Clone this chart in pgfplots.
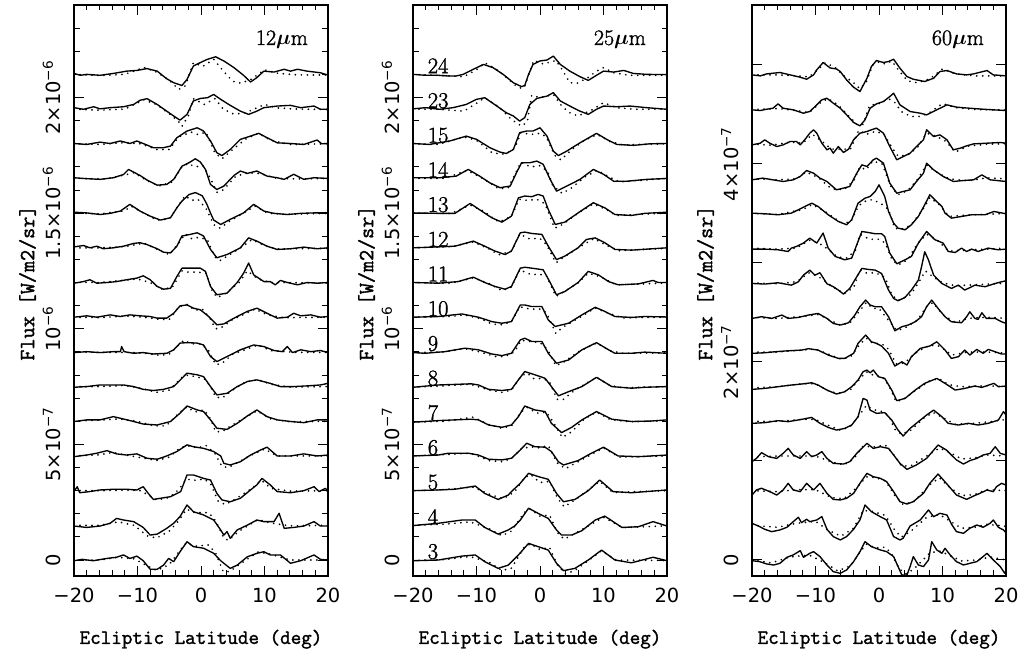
\documentclass[border=0pt]{standalone}
\usepackage{fontspec}
\usepackage{pgfplots}
\pgfplotsset{compat=1.18}
\newfontfamily\tickfam{DejaVu Sans}
\newfontfamily\labfam{Latin Modern Mono}[FakeBold=1.6]
\newfontfamily\numfam{Latin Modern Roman}[FakeBold=1.4]
\newcommand\tickfont{\tickfam\fontsize{19.5}{21}\selectfont}
\newcommand\xlfont{\labfam\fontsize{20.5}{22}\selectfont}
\newcommand\ylfont{\labfam\fontsize{21.5}{24}\selectfont}
\newcommand\curvefont{\numfam\fontsize{22.5}{24}\selectfont}
\newcommand\titlefont{\numfam\fontsize{22}{24}\selectfont\boldmath}

\pgfplotsset{
  panel/.style={
    scale only axis, width=254pt, height=571pt,
    xmin=-20, xmax=20,
    xtick={-20,-10,0,10,20}, xticklabels={−20,−10,0,10,20},
    minor xtick={-18,-16,-14,-12,-8,-6,-4,-2,2,4,6,8,12,14,16,18},
    tick align=inside,
    major tick length=10pt, minor tick length=5.5pt,
    every tick/.style={black, line width=1pt},
    axis line style={line width=1.2pt},
    ticklabel style={font=\tickfont},
    xticklabel style={inner sep=0pt, anchor=north}, xticklabel shift=12pt,
    yticklabel style={rotate=90, anchor=south, inner sep=0pt}, yticklabel shift=13pt,
    xlabel={Ecliptic Latitude (deg)}, ylabel={Flux [W/m2/sr]},
    xlabel style={at={(axis description cs:0.5,-0.119)}, anchor=base, font=\xlfont},
    ylabel style={at={(axis description cs:-0.157,0.513)}, anchor=base, font=\ylfont},
  },
  near/.style={ymin=-0.69, ymax=24.0,
    ytick={0,5,10,15,20},
    yticklabels={0,5×10\textsuperscript{−7},10\textsuperscript{−6},1.5×10\textsuperscript{−6},2×10\textsuperscript{−6}},
    minor ytick={1,2,3,4,6,7,8,9,11,12,13,14,16,17,18,19,21,22,23}},
  far/.style={ymin=-1.62, ymax=56.06,
    ytick={0,10,20,30,40,50},
    yticklabels={0,,2×10\textsuperscript{−7},,4×10\textsuperscript{−7},}},
  sol/.style={black, line width=1.35pt, line join=round, no marks},
  dot/.style={black, line width=1.9pt, line cap=round, dash pattern=on 0pt off 6pt, no marks},
}

\begin{document}
\begin{tikzpicture}
\path[use as bounding box] (0,0) rectangle (1021pt,652pt);

% ---------------- 12 micron ----------------
\begin{axis}[panel, near, at={(74pt,76pt)}, anchor=south west]
\addplot[sol] coordinates {(-20,21.04) (-19,20.96) (-18,21.0) (-15.9,20.96) (-13.8,21.04) (-11.7,21.14) (-10.1,21.17) (-8.5,21.25) (-6.9,21.14) (-5.4,20.81) (-4.3,20.64) (-3,20.52) (-2.2,20.78) (-1.2,21.36) (-0.1,21.51) (1,21.65) (2.3,21.76) (3.6,21.58) (5.2,21.29) (6.7,20.96) (7.8,20.67) (8.8,20.86) (9.9,21.14) (11.5,21.10) (13.1,21.22) (14.1,21.14) (15.2,21.22) (16.7,21.14) (18.8,21.07) (20,20.97)};
\addplot[dot] coordinates {(-20,21.0) (-16,20.95) (-12,21.0) (-9,21.3) (-7,21.1) (-5,20.75) (-3.5,20.35) (-2.5,20.5) (-1.2,21.5) (0.3,21.35) (2,21.65) (3.5,21.15) (5,20.7) (6.3,20.62) (8,20.8) (10,21.2) (12,21.05) (15,20.98) (20,20.97)};
\addplot[sol] coordinates {(-20,19.56) (-18.5,19.49) (-16.9,19.6) (-15.9,19.51) (-14.3,19.56) (-12.2,19.6) (-10.6,19.7) (-9.6,19.88) (-8.5,19.95) (-6.9,19.7) (-5.4,19.41) (-4.3,19.2) (-3.3,19.02) (-2.2,19.27) (-1.2,19.85) (-0.1,19.96) (1,19.99) (2,20.13) (3.1,19.92) (4.6,19.66) (6.2,19.41) (7.5,19.27) (8.8,19.41) (9.9,19.56) (12,19.63) (14.1,19.66) (15.7,19.56) (17.8,19.63) (18.8,19.49) (20,19.49)};
\addplot[dot] coordinates {(-20,19.5) (-16,19.45) (-12,19.5) (-9,19.9) (-7,19.7) (-5,19.3) (-3.5,18.95) (-3,18.75) (-2,19.2) (-1.2,19.95) (0.5,19.7) (2.2,19.95) (3.5,19.5) (5,19.3) (6.5,19.3) (8,19.45) (10,19.7) (12,19.55) (15,19.5) (20,19.48)};
\addplot[sol] coordinates {(-20,18.01) (-18,17.97) (-15.9,18.07) (-14.3,18.01) (-12.7,18.12) (-11.2,18.01) (-10.1,18.12) (-9.1,18.01) (-7.5,17.83) (-5.9,17.83) (-4.8,17.9) (-3.8,18.26) (-2.2,18.55) (-0.6,18.69) (0.4,18.55) (1.5,18.12) (2.5,17.61) (3.3,17.49) (4.6,17.75) (6.2,18.19) (7.8,18.33) (9.1,18.45) (10.4,18.26) (12,18.04) (14.1,18.01) (16.2,17.97) (18.3,18.16) (19,18.0) (20,18.01)};
\addplot[dot] coordinates {(-20,18.0) (-16,17.97) (-12,18.05) (-9.5,18.0) (-7,17.75) (-5,17.75) (-3.5,18.3) (-1.5,18.5) (-0.5,18.4) (0.8,18.5) (2.2,17.6) (3.3,17.35) (5,17.75) (7,18.2) (9,18.45) (11,18.15) (14,17.97) (20,18.0)};
\addplot[sol] coordinates {(-20,16.53) (-18,16.49) (-15.9,16.46) (-13.8,16.53) (-12.2,16.67) (-11.4,16.89) (-10.6,16.77) (-9.6,16.63) (-8.5,16.43) (-6.9,16.21) (-5.4,16.24) (-4.3,16.46) (-3,17.03) (-1.7,17.21) (-0.9,17.35) (-0.1,17.21) (0.7,16.89) (1.5,16.24) (2.5,16.02) (3.6,16.17) (5.2,16.63) (6.2,16.82) (7.3,16.72) (8.8,16.82) (10.4,16.6) (12,16.53) (13.1,16.46) (14.6,16.68) (16.2,16.46) (17.8,16.53) (20,16.5)};
\addplot[dot] coordinates {(-20,16.5) (-15,16.48) (-12,16.65) (-10.5,16.75) (-8.5,16.4) (-6.5,16.18) (-4.5,16.35) (-3,17.0) (-2,17.15) (-1,17.0) (0.3,17.05) (1.5,16.5) (2.5,15.9) (3.5,16.0) (5.5,16.6) (7.5,16.75) (9.5,16.7) (12,16.5) (15,16.48) (20,16.5)};
\addplot[sol] coordinates {(-20,15.04) (-18,15.01) (-15.9,14.94) (-14.3,14.99) (-12.7,15.09) (-11.2,15.38) (-9.6,15.09) (-8,14.87) (-6.4,14.7) (-4.8,14.8) (-3.8,15.23) (-3,15.52) (-1.9,15.8) (-0.9,15.89) (0.2,15.75) (0.9,15.4) (1.5,15.0) (2,14.7) (3.1,14.51) (4.6,14.73) (6.7,15.01) (8.3,15.38) (9.9,15.09) (11.5,14.99) (13.6,14.94) (15.7,14.99) (17.8,15.01) (20,15.01)};
\addplot[dot] coordinates {(-20,15.0) (-16,14.97) (-12,15.1) (-11,15.3) (-9,15.0) (-7,14.7) (-5,14.75) (-3.5,15.35) (-2.5,15.75) (-1.5,15.55) (-0.5,15.6) (0.8,15.2) (2,14.5) (3,14.35) (4.5,14.65) (7,15.05) (8.5,15.3) (10.5,15.0) (13,14.95) (20,14.99)};
\addplot[sol] coordinates {(-20,13.54) (-18.5,13.6) (-17.5,13.5) (-16.4,13.57) (-15.4,13.46) (-13.8,13.5) (-12.2,13.57) (-10.6,13.69) (-9.6,13.72) (-8.5,13.64) (-6.9,13.46) (-5.9,13.31) (-4.8,13.28) (-3.8,13.57) (-3,14.01) (-1.7,14.08) (-0.6,14.15) (0.4,14.01) (1.5,13.43) (2.5,13.07) (4.1,13.21) (6.2,13.5) (7.5,13.93) (8.8,13.79) (10.4,13.57) (12,13.43) (14.1,13.46) (16.2,13.53) (18.3,13.46) (20,13.5)};
\addplot[dot] coordinates {(-20,13.5) (-16,13.5) (-12,13.55) (-9,13.7) (-7,13.45) (-5,13.2) (-3.5,13.7) (-2.5,14.1) (-1.5,13.9) (-0.3,13.95) (1,13.85) (2.2,13.1) (3,12.95) (4.5,13.2) (6.5,13.55) (8,13.85) (10,13.6) (12,13.45) (20,13.48)};
\addplot[sol] coordinates {(-20,11.97) (-18.5,12.04) (-17.5,12.12) (-16.4,11.97) (-14.8,12.0) (-13.3,12.04) (-11.7,12.12) (-10.1,12.19) (-9.1,12.29) (-8,12.12) (-6.9,11.83) (-5.9,11.71) (-4.8,11.75) (-3.8,12.26) (-3,12.62) (-1.7,12.62) (-0.1,12.62) (0.7,12.48) (1.5,11.83) (2.5,11.47) (4.1,11.54) (5.7,12.0) (6.7,12.4) (7.5,12.84) (8.3,12.33) (9.9,12.04) (10.9,12.04) (11.7,11.9) (12.5,12.09) (13.6,12.0) (15.2,11.9) (16.7,12.0) (18.3,11.97) (20,12.0)};
\addplot[dot] coordinates {(-20,12.0) (-16,12.0) (-12,12.1) (-10,12.15) (-8,12.0) (-6,11.7) (-4.5,11.8) (-3,12.5) (-2,12.45) (-0.5,12.45) (0.8,12.4) (1.8,11.6) (2.6,11.35) (4,11.55) (6,12.0) (7.3,12.5) (9,12.15) (11,12.0) (20,11.98)};
\addplot[sol] coordinates {(-20,10.5) (-18,10.56) (-16.4,10.5) (-14.3,10.6) (-12.7,10.53) (-11.2,10.6) (-9.6,10.56) (-8,10.53) (-6.9,10.46) (-5.4,10.46) (-4.3,10.67) (-3.3,10.99) (-2.2,11.03) (-1.2,10.89) (-0.1,10.82) (1.2,10.53) (2.5,10.17) (3.6,10.21) (5.2,10.46) (7.3,10.75) (8.8,10.89) (10.4,10.67) (12,10.46) (13.6,10.5) (14.6,10.67) (15.7,10.56) (17.3,10.6) (18.8,10.5) (20,10.53)};
\addplot[dot] coordinates {(-20,10.5) (-16,10.48) (-12,10.55) (-9,10.5) (-6.5,10.4) (-5,10.4) (-3.5,10.95) (-2.2,11.05) (-1,10.8) (0.2,10.85) (1.3,10.5) (2.3,10.0) (3.2,10.05) (5,10.4) (8.5,10.85) (10.5,10.6) (13,10.48) (20,10.5)};
\addplot[sol] coordinates {(-20,8.97) (-18,9.01) (-15.9,8.97) (-13.8,9.01) (-12.7,9.01) (-12.5,9.23) (-12.1,9.01) (-10.6,8.94) (-9.1,8.97) (-7.5,8.91) (-5.4,8.94) (-4.3,9.09) (-3.3,9.38) (-2.2,9.4) (-0.6,9.38) (0.4,9.3) (1.5,8.8) (2.5,8.58) (4.1,8.8) (6.2,9.09) (8.3,9.3) (9.9,9.23) (11.5,9.06) (12.8,9.01) (13.6,9.23) (14.4,8.97) (15.7,9.09) (17.3,9.01) (18.8,9.06) (20,8.97)};
\addplot[dot] coordinates {(-20,9.0) (-16,8.98) (-12,8.98) (-9,8.95) (-6.5,8.85) (-5,8.9) (-3.5,9.3) (-2.7,9.5) (-1.5,9.35) (0,9.35) (1.2,9.05) (2.3,8.45) (3.3,8.5) (5,8.9) (7,9.1) (9,9.3) (11,9.05) (15,8.98) (20,8.98)};
\addplot[sol] coordinates {(-20,7.47) (-18,7.5) (-15.9,7.57) (-13.8,7.57) (-12.2,7.57) (-10.6,7.5) (-9.1,7.38) (-7.5,7.33) (-5.9,7.38) (-4.3,7.5) (-3,7.86) (-2.2,8.08) (-0.6,8.01) (0.4,7.93) (1.5,7.5) (2.5,7.14) (4.1,7.21) (5.7,7.5) (7.3,7.72) (8.8,7.79) (10.9,7.64) (12.5,7.5) (14.6,7.5) (16.7,7.53) (18.8,7.57) (20,7.64)};
\addplot[dot] coordinates {(-20,7.5) (-16,7.5) (-12,7.55) (-9,7.4) (-7,7.25) (-5,7.35) (-3,7.9) (-2,8.0) (-0.5,7.9) (0.5,7.85) (1.5,7.5) (2.3,7.05) (3.3,7.0) (5,7.35) (7,7.7) (9,7.8) (11,7.6) (14,7.48) (20,7.5)};
\addplot[sol] coordinates {(-20,5.99) (-18,6.06) (-15.9,6.06) (-13.8,6.2) (-12.7,6.13) (-10.6,5.99) (-9.1,5.88) (-6.9,5.84) (-4.8,5.99) (-3.3,6.35) (-2.2,6.66) (-0.6,6.49) (0.4,6.42) (1.5,6.06) (2.5,5.7) (4.1,5.65) (5.7,5.91) (7.3,6.23) (8.8,6.49) (10.4,6.2) (12,6.06) (14.1,5.99) (16.2,5.94) (18.3,6.06) (20,6.06)};
\addplot[dot] coordinates {(-20,6.0) (-16,6.05) (-13,6.1) (-10,6.0) (-7.5,5.8) (-5.5,5.8) (-3.5,6.35) (-2.2,6.62) (-1,6.4) (0.5,6.5) (1.5,6.1) (2.3,5.55) (3.3,5.55) (5,5.85) (8.8,6.45) (11,6.1) (14,5.98) (20,6.0)};
\addplot[sol] coordinates {(-20,4.47) (-18,4.54) (-16.4,4.62) (-14.8,4.73) (-13.3,4.59) (-11.7,4.54) (-10.1,4.59) (-8.5,4.4) (-6.9,4.36) (-5.4,4.5) (-3.8,4.69) (-2.2,4.98) (-1.2,4.9) (0.4,4.83) (2,4.69) (3.1,4.5) (3.6,4.18) (4.6,4.11) (6.2,4.25) (7.8,4.54) (9.4,4.76) (10.4,4.88) (12,4.5) (14.1,4.5) (16.2,4.59) (18.3,4.5) (20,4.54)};
\addplot[dot] coordinates {(-20,4.5) (-16,4.55) (-14,4.65) (-12,4.55) (-9,4.4) (-7,4.3) (-5,4.45) (-3.5,4.8) (-2.3,4.95) (-0.5,4.85) (0.8,4.95) (2.2,4.6) (3.3,4.05) (4.3,4.0) (6,4.25) (8,4.55) (10,4.8) (12,4.5) (20,4.5)};
\addplot[sol] coordinates {(-20,2.96) (-19.5,3.17) (-19.1,2.91) (-17.5,2.96) (-15.9,3.03) (-13.8,3.06) (-11.7,3.06) (-10.1,3.03) (-9.1,3.17) (-8.3,2.88) (-7.5,2.62) (-6.4,2.67) (-4.8,2.74) (-3.2,2.96) (-2.2,3.68) (-1.2,3.68) (0.4,3.53) (1.5,3.46) (2.5,2.88) (3.3,2.6) (4.6,2.52) (6.2,2.67) (7.8,3.03) (8.8,3.25) (9.6,3.53) (10.9,3.25) (12,2.96) (14.1,2.91) (16.2,3.0) (17.8,3.17) (18.6,2.96) (19.6,3.1) (20,2.96)};
\addplot[dot] coordinates {(-20,3.0) (-16,3.0) (-12,3.02) (-9.5,3.0) (-7,2.6) (-5,2.7) (-3.5,3.05) (-2.3,3.5) (-1,3.45) (0.5,3.5) (1.5,3.3) (2.7,2.55) (3.8,2.4) (5.5,2.65) (8,3.1) (9.5,3.45) (11,3.1) (14,2.98) (20,3.0)};
\addplot[sol] coordinates {(-20,1.47) (-18,1.41) (-15.9,1.47) (-14.3,1.59) (-13.3,1.8) (-12.2,1.73) (-10.6,1.66) (-9.1,1.41) (-8,1.08) (-6.9,1.12) (-5.4,1.37) (-4.3,1.59) (-3.3,1.88) (-2.2,2.38) (-1.2,2.09) (0.4,1.95) (2,1.73) (3.1,1.3) (3.6,1.08) (4.1,1.23) (4.6,0.94) (5.7,1.3) (7.3,1.51) (8.8,1.73) (9.9,1.66) (11.5,1.66) (12.3,2.02) (13.1,1.37) (14.6,1.41) (16.2,1.47) (17.8,1.66) (18.8,1.47) (20,1.47)};
\addplot[dot] coordinates {(-20,1.5) (-16,1.5) (-13,1.65) (-10.5,1.5) (-8.5,1.05) (-7,0.95) (-5,1.25) (-3.5,1.7) (-2.3,2.2) (-1,2.05) (1.2,2.05) (2.3,1.7) (3.6,0.95) (4.3,0.85) (6,1.25) (9,1.75) (11,1.6) (14,1.48) (20,1.5)};
\addplot[sol] coordinates {(-20,-0.03) (-18.7,0.03) (-17,-0.03) (-14.8,0.07) (-13.3,0.12) (-12.2,0.22) (-11.2,0.07) (-10.1,0.17) (-9.1,-0.03) (-8,-0.4) (-6.9,-0.4) (-5.9,-0.22) (-5.1,0.07) (-4.3,-0.07) (-3.3,0.36) (-2.2,0.79) (-1.2,0.58) (0.4,0.51) (2,0.29) (3.1,-0.03) (4.6,-0.36) (5.7,-0.22) (7.3,0.14) (8.8,0.29) (9.9,0.36) (10.9,0.22) (12.5,0.22) (14.1,-0.14) (15.7,-0.03) (17.8,0.22) (18.8,0.03) (20,0.0)};
\addplot[dot] coordinates {(-20,0.0) (-16,0.0) (-13,0.12) (-10.5,0.05) (-8.5,-0.25) (-7,-0.45) (-5,-0.2) (-3.5,0.35) (-2.3,0.75) (-1,0.6) (1.2,0.65) (2.3,0.3) (3.5,-0.5) (4.5,-0.5) (6,-0.2) (9,0.35) (11,0.25) (14,0.0) (20,0.0)};
\node[anchor=base east, inner sep=0pt, font=\titlefont] at (rel axis cs:1,1) [xshift=-20pt, yshift=-40pt] {12$\mu$m};
\end{axis}

% ---------------- 25 micron ----------------
\begin{axis}[panel, near, at={(413pt,76pt)}, anchor=south west]
\addplot[sol] coordinates {(-20,21.00) (-18,20.96) (-16,20.96) (-14.5,20.93) (-13.2,20.93) (-12.1,21.00) (-10.5,21.22) (-8.9,21.43) (-7.4,21.29) (-5.8,21.00) (-4.2,20.64) (-2.9,20.47) (-2.4,20.52) (-1.8,21.00) (-1.1,21.43) (0,21.58) (1.1,21.62) (2.1,21.79) (3.2,21.43) (4.7,21.14) (6.3,20.90) (7.6,20.74) (8.9,20.96) (10,21.14) (11.6,21.10) (13.2,21.17) (14.7,21.04) (16.8,21.00) (20,20.99)};
\addplot[dot] coordinates {(-20,21.0) (-17,20.97) (-14,20.93) (-12,20.90) (-10,21.2) (-8.7,21.5) (-7,21.25) (-5,20.8) (-4,20.55) (-3,20.4) (-2.5,20.42) (-1.5,21.2) (-1,21.6) (0.5,21.45) (2.5,21.6) (3.5,21.2) (4.7,20.64) (5.8,20.61) (7.5,20.85) (8.9,21.14) (10,21.29) (11.6,21.07) (14,20.96) (20,20.96)};
\addplot[sol] coordinates {(-20,19.51) (-18,19.56) (-15.8,19.49) (-13.7,19.56) (-11.6,19.70) (-10,19.92) (-8.7,19.99) (-6.8,19.63) (-5.3,19.34) (-4.2,19.20) (-3.2,18.98) (-2.4,19.13) (-1.6,19.70) (-0.5,19.96) (1.1,20.06) (2.1,20.21) (3.2,19.85) (4.7,19.63) (6.3,19.41) (7.6,19.27) (8.9,19.49) (10,19.63) (12.1,19.60) (14.2,19.63) (16.8,19.56) (20,19.49)};
\addplot[dot] coordinates {(-20,19.5) (-16,19.49) (-12,19.41) (-10,19.75) (-8.7,19.99) (-6.5,19.6) (-4.5,19.05) (-2.9,18.76) (-2,18.95) (-1.3,20.1) (0,19.99) (2.1,20.13) (3.5,19.6) (4.7,19.34) (6,19.2) (8.4,19.49) (10,19.78) (12,19.56) (15,19.49) (20,19.5)};
\addplot[sol] coordinates {(-20,18.01) (-17.4,17.97) (-14.2,18.12) (-11.6,18.33) (-10,18.19) (-7.9,17.83) (-6.3,17.64) (-5.3,17.58) (-4.2,17.75) (-3.2,18.48) (-2.1,18.55) (-1.1,18.55) (0,18.69) (1.1,18.33) (2.1,17.68) (2.9,17.49) (4.2,17.68) (6.3,18.04) (8.9,18.45) (10.5,18.19) (12.1,17.97) (14.7,17.93) (17.4,18.0) (20,18.01)};
\addplot[dot] coordinates {(-20,18.0) (-16,17.97) (-12,18.3) (-10,18.15) (-7.5,17.6) (-5.5,17.55) (-4,17.8) (-3,18.48) (-1.5,18.4) (0,18.45) (1,18.3) (2.3,17.5) (3.3,17.3) (5,17.75) (7,18.15) (9,18.4) (11,18.1) (13,17.95) (20,18.0)};
\addplot[sol] coordinates {(-20,16.53) (-15.8,16.53) (-13.2,16.60) (-11.3,16.89) (-9.5,16.60) (-7.9,16.31) (-6.3,16.10) (-4.7,16.17) (-3.7,16.75) (-2.9,17.18) (-1.6,17.18) (-0.5,17.25) (0.5,17.11) (1.6,16.46) (2.6,15.95) (4.2,16.17) (6.3,16.46) (8.4,16.89) (10,16.68) (11.6,16.38) (13.7,16.38) (16.8,16.46) (20,16.5)};
\addplot[dot] coordinates {(-20,16.5) (-15,16.5) (-11.5,16.85) (-9,16.5) (-6.5,16.05) (-5,16.1) (-3,17.2) (-1.5,17.0) (0,17.05) (1.2,16.8) (2,16.2) (3.5,15.85) (5,16.1) (7,16.55) (9,16.85) (11,16.55) (12.5,16.35) (15,16.4) (20,16.5)};
\addplot[sol] coordinates {(-20,15.01) (-16,14.99) (-13.4,14.99) (-11,15.42) (-9.2,15.09) (-7.6,14.80) (-6,14.61) (-4.5,14.87) (-3.4,15.66) (-2.4,15.74) (-1.3,15.71) (-0.3,15.81) (0.5,15.74) (1.3,15.16) (2.4,14.51) (3.9,14.61) (6,15.01) (8.4,15.45) (10.2,15.23) (11.8,14.94) (14.4,14.90) (16.5,14.99) (20,15.04)};
\addplot[dot] coordinates {(-20,15.0) (-14,14.99) (-11,15.35) (-9,15.1) (-6.5,14.62) (-4.5,14.85) (-3.3,15.6) (-2,15.55) (-0.5,15.6) (0.8,15.4) (2.3,14.35) (3.5,14.5) (6,15.0) (8.4,15.4) (10.5,15.15) (12,14.9) (20,15.0)};
\addplot[sol] coordinates {(-20,13.5) (-16,13.54) (-13.4,13.57) (-10.5,13.79) (-8.7,13.57) (-7.1,13.36) (-5.5,13.21) (-4.5,13.36) (-3.1,14.15) (-2.4,14.18) (-1.3,14.12) (0.3,14.08) (1.3,13.57) (2.6,12.99) (3.9,13.14) (6,13.5) (7.3,13.86) (8.7,13.93) (10.2,13.72) (11.8,13.43) (14.4,13.40) (20,13.5)};
\addplot[dot] coordinates {(-20,13.5) (-14,13.55) (-10.5,13.75) (-8,13.45) (-6.5,13.2) (-4.5,13.35) (-3.2,14.1) (-1.8,13.9) (0,13.9) (1,13.65) (2.5,12.85) (3.5,13.05) (6,13.5) (8.5,13.9) (10.5,13.6) (12.5,13.38) (20,13.48)};
\addplot[sol] coordinates {(-20,12.0) (-16,11.97) (-12.9,12.04) (-10.5,12.23) (-8.7,12.0) (-7.1,11.83) (-5.5,11.71) (-4.5,11.83) (-3.1,12.62) (-2.4,12.66) (-1.3,12.62) (0.5,12.55) (1.6,12.0) (2.6,11.47) (3.9,11.61) (6,12.0) (7.6,12.48) (9.2,12.33) (10.8,12.04) (12.3,11.9) (15.5,11.94) (17.8,12.09) (18.6,12.0) (20,12.0)};
\addplot[dot] coordinates {(-20,12.0) (-14,11.97) (-10.5,12.2) (-8,11.95) (-6,11.65) (-4.5,11.8) (-3.2,12.55) (-1.5,12.35) (0,12.35) (1,12.3) (2.5,11.4) (3.5,11.55) (6,11.98) (7.6,12.4) (9.5,12.25) (12,11.9) (20,11.98)};
\addplot[sol] coordinates {(-20,10.5) (-16,10.53) (-12.3,10.64) (-9.7,10.5) (-7.6,10.31) (-6,10.24) (-4.5,10.31) (-3.1,11.03) (-2.4,11.03) (-1.3,10.96) (0.3,10.96) (1.3,10.38) (2.4,10.1) (4.5,10.24) (6.6,10.6) (8.7,10.93) (10.2,10.75) (11.8,10.53) (14.4,10.49) (16.5,10.53) (20,10.51)};
\addplot[dot] coordinates {(-20,10.5) (-14,10.53) (-12,10.6) (-9.5,10.45) (-7.5,10.2) (-6,10.18) (-4.5,10.3) (-3.2,10.95) (-1.5,10.85) (0,10.85) (1,10.7) (2.5,9.8) (3.5,10.05) (6,10.45) (8.7,10.9) (10.5,10.7) (13,10.47) (20,10.5)};
\addplot[sol] coordinates {(-20,8.97) (-18.1,8.94) (-15,9.01) (-11.8,9.16) (-9.7,9.09) (-7.6,8.91) (-6,8.84) (-4.5,8.94) (-3.1,9.52) (-2.4,9.59) (-1.3,9.45) (0.3,9.45) (1.3,8.94) (2.6,8.51) (4.5,8.65) (6.6,9.09) (8.9,9.4) (10.8,9.09) (11.8,8.94) (14.4,8.94) (16.5,8.99) (20,8.94)};
\addplot[dot] coordinates {(-20,8.97) (-15,9.0) (-12,9.15) (-9.5,9.0) (-7,8.8) (-5.5,8.8) (-4,9.0) (-3,9.5) (-1.5,9.45) (0,9.4) (1.2,9.1) (2.5,8.4) (3.7,8.55) (6,9.0) (8.9,9.38) (11,9.05) (13,8.94) (20,8.96)};
\addplot[sol] coordinates {(-20,7.47) (-16,7.57) (-10.8,7.62) (-9.7,7.57) (-8.1,7.38) (-6,7.33) (-4.5,7.38) (-3.4,7.79) (-2.4,8.15) (-0.8,8.01) (0.8,7.86) (1.8,7.5) (2.9,7.1) (4.5,7.28) (6.6,7.5) (8.9,7.9) (11.3,7.5) (14.4,7.43) (16.5,7.47) (20,7.5)};
\addplot[dot] coordinates {(-20,7.48) (-16,7.52) (-11,7.6) (-8,7.35) (-6,7.25) (-4.5,7.35) (-3,7.95) (-2,8.08) (-1,7.85) (0.5,7.85) (1.5,7.7) (2.7,6.95) (3.7,6.95) (5.5,7.35) (8.9,7.9) (11,7.55) (13,7.45) (20,7.5)};
\addplot[sol] coordinates {(-20,5.96) (-16,6.03) (-10.8,6.09) (-9.7,6.06) (-8.1,5.84) (-6,5.74) (-4.5,5.84) (-3.4,6.2) (-2.4,6.66) (-0.8,6.49) (0.8,6.42) (1.8,5.91) (3.4,5.51) (5,5.74) (6.6,6.06) (8.9,6.42) (11.3,6.09) (14.4,5.99) (17.5,6.01) (20,6.06)};
\addplot[dot] coordinates {(-20,5.96) (-15,6.0) (-10.5,6.18) (-8,5.85) (-6,5.7) (-4.5,5.8) (-3,6.4) (-2,6.6) (-0.5,6.35) (1,6.4) (2,6.0) (3.5,5.3) (5,5.55) (7,6.1) (8.9,6.4) (11,6.08) (14,5.98) (20,6.02)};
\addplot[sol] coordinates {(-20,4.5) (-16,4.54) (-14.4,4.62) (-11.3,4.62) (-9.7,4.54) (-8.1,4.36) (-6,4.33) (-4.5,4.4) (-3.1,4.76) (-2.1,5.05) (-0.8,4.9) (0.8,4.88) (1.8,4.69) (2.9,4.25) (3.7,4.11) (6,4.3) (8.1,4.62) (10,4.88) (12.3,4.5) (15.5,4.47) (20,4.54)};
\addplot[dot] coordinates {(-20,4.5) (-15,4.56) (-11,4.62) (-8,4.3) (-6,4.25) (-4.5,4.38) (-3,4.8) (-1.5,4.9) (-0.3,4.85) (1.3,4.95) (2.7,4.2) (4,3.95) (6,4.25) (10,4.85) (12.5,4.45) (20,4.5)};
\addplot[sol] coordinates {(-20,3.0) (-16,3.03) (-13.4,3.06) (-10.2,3.2) (-8.7,2.88) (-6.6,2.62) (-5,2.81) (-4.5,2.96) (-3.1,3.32) (-1.8,3.75) (-0.3,3.61) (1.3,3.49) (2.6,2.88) (3.7,2.52) (5.5,2.62) (7.6,3.0) (9.4,3.46) (11.5,2.96) (14.4,2.91) (20,3.03)};
\addplot[dot] coordinates {(-20,3.0) (-16,3.03) (-10.5,3.15) (-8,2.85) (-5.8,2.65) (-4,2.95) (-2.5,3.55) (-1.5,3.7) (0,3.35) (1.5,3.4) (2.7,2.7) (3.8,2.3) (5.5,2.6) (9.4,3.4) (11.5,2.92) (20,3.0)};
\addplot[sol] coordinates {(-20,1.49) (-16,1.59) (-12.3,1.73) (-10.2,1.73) (-8.7,1.41) (-6.6,1.12) (-5,1.3) (-4,1.47) (-3.1,1.73) (-1.8,2.24) (-0.3,2.02) (1.3,1.8) (2.6,1.3) (3.4,1.08) (5,1.08) (6.6,1.27) (8.7,1.73) (10.2,1.9) (12.9,1.41) (15.5,1.44) (17.8,1.66) (20,1.47)};
\addplot[dot] coordinates {(-20,1.5) (-15,1.55) (-11,1.65) (-8,1.35) (-6,1.05) (-4.5,1.25) (-2.5,2.05) (-1.5,2.2) (0,1.9) (1.5,1.95) (2.7,1.2) (3.8,0.9) (5.5,1.15) (10,1.85) (13,1.4) (20,1.48)};
\addplot[sol] coordinates {(-20,-0.03) (-16,0.0) (-12.3,0.17) (-10.2,0.22) (-8.7,-0.07) (-6.6,-0.36) (-5,-0.22) (-3.4,0.22) (-1.8,0.72) (-0.3,0.58) (1.3,0.43) (2.6,-0.14) (3.7,-0.46) (5.5,-0.36) (7.6,0.0) (9.7,0.43) (11.8,0.0) (14.4,-0.12) (17.8,0.12) (20,-0.03)};
\addplot[dot] coordinates {(-20,-0.02) (-15,0.02) (-11,0.15) (-8,-0.1) (-6,-0.45) (-4.5,-0.35) (-2.5,0.55) (-1.5,0.7) (0,0.45) (1.5,0.55) (2.7,-0.2) (4,-0.6) (5.5,-0.45) (9.7,0.4) (12,0.0) (20,-0.02)};
\node[anchor=base east, inner sep=0pt, font=\titlefont] at (rel axis cs:1,1) [xshift=-21pt, yshift=-40pt] {25$\mu$m};
\node[anchor=base west, inner sep=0pt, font=\curvefont] at (axis cs:-17.7,21.05) {24};
\node[anchor=base west, inner sep=0pt, font=\curvefont] at (axis cs:-17.7,19.55) {23};
\node[anchor=base west, inner sep=0pt, font=\curvefont] at (axis cs:-17.7,18.05) {15};
\node[anchor=base west, inner sep=0pt, font=\curvefont] at (axis cs:-17.7,16.55) {14};
\node[anchor=base west, inner sep=0pt, font=\curvefont] at (axis cs:-17.7,15.05) {13};
\node[anchor=base west, inner sep=0pt, font=\curvefont] at (axis cs:-17.7,13.55) {12};
\node[anchor=base west, inner sep=0pt, font=\curvefont] at (axis cs:-17.7,12.05) {11};
\node[anchor=base west, inner sep=0pt, font=\curvefont] at (axis cs:-17.7,10.55) {10};
\node[anchor=base west, inner sep=0pt, font=\curvefont] at (axis cs:-17.7,9.05) {9};
\node[anchor=base west, inner sep=0pt, font=\curvefont] at (axis cs:-17.7,7.55) {8};
\node[anchor=base west, inner sep=0pt, font=\curvefont] at (axis cs:-17.7,6.05) {7};
\node[anchor=base west, inner sep=0pt, font=\curvefont] at (axis cs:-17.7,4.55) {6};
\node[anchor=base west, inner sep=0pt, font=\curvefont] at (axis cs:-17.7,3.05) {5};
\node[anchor=base west, inner sep=0pt, font=\curvefont] at (axis cs:-17.7,1.55) {4};
\node[anchor=base west, inner sep=0pt, font=\curvefont] at (axis cs:-17.7,0.05) {3};
\end{axis}

% ---------------- 60 micron ----------------
\begin{axis}[panel, far, at={(752pt,76pt)}, anchor=south west]
\addplot[sol] coordinates {(-20,49.0) (-18.7,48.9) (-17.7,49.1) (-15.6,49.24) (-14,49.0) (-12.4,48.76) (-11.4,48.56) (-10.3,49.0) (-9.8,49.51) (-8.8,50.25) (-7.7,49.7) (-6.7,49.6) (-6.1,49.34) (-5.1,48.49) (-4,47.75) (-3,47.32) (-1.9,48.66) (-1.2,49.84) (-0.4,50.45) (0.7,50.25) (1.5,50.35) (2.3,50.58) (3.3,49.67) (4.4,48.83) (5.4,48.56) (7.2,48.33) (8.6,48.66) (9.6,49.34) (10.7,49.44) (12.2,49.1) (13.8,49.0) (14.9,49.1) (17,49.44) (18,49.0) (20,48.9)};
\addplot[dot] coordinates {(-20,49.0) (-16,49.0) (-13,48.9) (-11,48.8) (-9.5,49.6) (-8.5,50.2) (-7,49.8) (-5.5,48.9) (-4,48.2) (-3,47.6) (-2,48.3) (-1,50.0) (0,50.3) (1,50.1) (2,50.4) (3.3,49.3) (4.5,48.4) (6,48.2) (8,48.6) (10,49.6) (12,49.1) (15,48.9) (20,48.9)};
\addplot[sol] coordinates {(-20,45.47) (-18.7,45.4) (-17.7,45.53) (-16.7,45.63) (-15.9,46.07) (-15.1,45.63) (-13.5,45.47) (-11.9,45.13) (-10.9,45.3) (-9.8,45.97) (-9,46.48) (-8.2,46.64) (-7.2,46.14) (-6.1,45.63) (-5.1,44.96) (-4,44.19) (-3,43.85) (-2.2,44.46) (-1.4,45.63) (-0.4,46.07) (0.7,46.31) (1.7,46.81) (2.3,47.15) (3.3,45.97) (4.9,45.3) (6.5,45.13) (7.5,44.96) (9.1,45.47) (10.7,45.97) (12.2,45.74) (14.3,45.63) (16.4,45.53) (18,45.47) (20,45.4)};
\addplot[dot] coordinates {(-20,45.5) (-16,45.6) (-13,45.4) (-11,45.2) (-9,46.3) (-8,46.6) (-6.5,46.0) (-5,45.0) (-3.5,44.0) (-2.5,44.0) (-1.5,45.9) (0,46.1) (1.5,46.6) (2.5,46.2) (3.5,45.3) (5,44.8) (6.5,44.8) (8,45.2) (10,46.1) (12,45.7) (15,45.5) (20,45.45)};
\addplot[sol] coordinates {(-20,41.93) (-18.7,42.1) (-18,42.44) (-17.2,42.1) (-16.1,41.76) (-15.1,41.93) (-14,42.27) (-13,42.27) (-12.4,41.93) (-11.7,42.44) (-10.9,43.11) (-10.3,43.45) (-9.8,43.11) (-9,42.1) (-8.2,41.43) (-7.7,41.6) (-7.2,41.09) (-6.4,41.76) (-5.6,41.16) (-4.8,41.49) (-4,42.44) (-3,43.11) (-1.9,43.28) (-1.2,43.45) (-0.4,43.62) (0.7,43.11) (1.7,41.76) (2.8,40.42) (3.8,40.75) (4.9,41.09) (5.9,41.76) (7,42.44) (7.5,43.45) (8.6,42.77) (9.6,42.94) (10.7,42.44) (11.7,41.43) (12.8,41.6) (13.8,41.83) (14.9,42.03) (17,42.1) (19.1,42.17) (20,42.1)};
\addplot[dot] coordinates {(-20,42.0) (-17,41.9) (-14,42.2) (-12,42.1) (-10.5,43.0) (-9,42.3) (-7.5,41.5) (-6,41.5) (-4.5,41.5) (-3.2,43.4) (-2,43.0) (-0.5,43.3) (0.8,43.0) (2,41.7) (3,40.8) (4.5,40.9) (6,41.6) (7.5,43.1) (9,42.8) (10.5,42.3) (12,41.2) (14,41.8) (17,42.0) (20,42.05)};
\addplot[sol] coordinates {(-20,38.4) (-18.3,38.57) (-16.7,38.4) (-15.1,38.23) (-13.5,38.4) (-12.4,38.74) (-11.4,39.34) (-10.3,39.07) (-9.3,38.57) (-8.2,38.23) (-6.7,37.39) (-5.6,37.56) (-4.6,37.73) (-3.5,39.07) (-2.7,39.91) (-1.9,39.75) (-0.9,40.42) (-0.4,40.59) (0.7,40.08) (1.7,38.06) (2.8,37.05) (3.8,37.22) (4.9,37.39) (5.9,38.23) (7,39.07) (7.5,40.08) (8.6,39.41) (10.1,38.74) (11.7,38.23) (13.3,38.33) (14.9,38.4) (16.2,38.9) (17.5,38.4) (20,38.23)};
\addplot[dot] coordinates {(-20,38.5) (-16,38.4) (-13,38.5) (-11.5,39.2) (-9.5,38.6) (-7.5,37.5) (-5.5,37.4) (-4,38.3) (-3,39.7) (-2,39.4) (-1,40.3) (0.5,40.0) (1.8,37.8) (3,36.9) (4.5,37.3) (6,38.4) (7.5,39.9) (9,39.2) (11,38.5) (14,38.3) (17,38.6) (20,38.5)};
\addplot[sol] coordinates {(-20,35.03) (-18,34.97) (-15.9,34.87) (-13.8,35.03) (-12.2,35.54) (-10.6,36.04) (-9.6,35.71) (-8,34.87) (-6.4,34.19) (-5.1,33.86) (-4.3,34.36) (-3.3,36.04) (-2.2,36.55) (-1.4,36.72) (-0.6,37.22) (0,37.89) (0.9,36.72) (1.5,35.2) (2.3,34.02) (3,33.52) (4.1,33.35) (5.1,33.86) (6.2,34.7) (7.2,35.88) (8,36.89) (8.8,36.38) (9.9,35.71) (10.4,35.03) (11.4,34.53) (13,34.7) (14.6,34.87) (16.7,34.87) (18.1,35.2) (20,34.97)};
\addplot[dot] coordinates {(-20,35.0) (-16,34.9) (-12,35.4) (-10.5,35.9) (-8.5,35.2) (-6,34.1) (-4.5,34.1) (-3.2,35.8) (-2,36.3) (-1,36.4) (0.3,36.0) (1.5,35.4) (2.5,33.5) (3.5,33.4) (5,33.8) (7,35.5) (8,36.6) (9.5,35.9) (11,34.7) (14,34.85) (20,35.0)};
\addplot[sol] coordinates {(-20,31.4) (-18,31.4) (-15.9,31.33) (-14.3,31.16) (-13.8,31.5) (-13,31.67) (-11.9,32.01) (-10.9,32.51) (-9.8,32.01) (-8.8,33.02) (-8,31.5) (-6.9,30.66) (-5.4,30.32) (-4.3,30.49) (-3.5,31.84) (-2.7,33.18) (-1.7,33.08) (-0.6,32.95) (0.4,32.95) (0.9,32.68) (1.7,30.99) (2.8,29.92) (4.1,30.32) (5.1,30.66) (6.2,32.01) (7.5,33.18) (8.8,32.35) (10.1,32.01) (10.9,31.16) (12,31.06) (13,31.5) (13.8,31.16) (14.6,31.4) (15.6,31.16) (17.2,31.5) (18.8,31.33) (20,31.4)};
\addplot[dot] coordinates {(-20,31.5) (-16,31.4) (-13,31.5) (-11,32.3) (-9.5,32.0) (-8.5,31.6) (-6.5,30.6) (-5,30.5) (-3.7,31.3) (-3,32.9) (-1.5,32.4) (0,32.4) (1,32.0) (2,30.4) (3,29.8) (4.5,30.3) (6,31.9) (7.5,32.9) (9,32.4) (11,31.2) (14,31.3) (17,31.4) (20,31.5)};
\addplot[sol] coordinates {(-20,27.93) (-18,27.87) (-15.9,28.0) (-13.8,27.76) (-12.7,28.1) (-11.9,28.77) (-10.9,29.28) (-10.1,28.77) (-9.3,29.01) (-8.2,27.9) (-7.2,27.6) (-6.4,27.26) (-5.6,26.86) (-4.6,27.43) (-3.5,28.61) (-2.7,29.45) (-1.7,29.35) (-0.6,29.28) (0.4,28.94) (1.5,27.26) (2.3,26.42) (3,26.18) (4.1,26.52) (5.1,27.26) (6.2,28.27) (6.7,29.62) (7.2,31.13) (7.8,30.29) (8.6,28.77) (9.9,27.93) (11.4,27.43) (12.5,27.76) (13.5,27.26) (15.1,27.76) (16.7,27.6) (18.3,27.93) (19.3,28.1) (20,28.2)};
\addplot[dot] coordinates {(-20,28.0) (-16,27.9) (-13,28.1) (-11,29.0) (-9.5,28.6) (-7.5,27.7) (-5.5,26.9) (-4,27.5) (-3,29.3) (-2,29.0) (-0.5,29.0) (1,28.5) (2,26.8) (3,26.2) (5,26.8) (6.5,28.3) (7.3,29.2) (8.5,28.6) (10,28.0) (12,27.7) (15,27.8) (20,27.95)};
\addplot[sol] coordinates {(-20,24.4) (-18.5,24.57) (-16.9,24.4) (-15.3,24.74) (-14.3,24.4) (-12.7,24.5) (-11.1,24.74) (-9.6,24.9) (-8.2,24.4) (-7.2,23.89) (-6.1,23.73) (-4.8,23.96) (-3.8,24.74) (-3,25.58) (-2.1,26.25) (-1.4,25.75) (-0.6,25.58) (0.4,25.58) (1.5,24.57) (2.5,23.15) (3.6,23.56) (4.6,23.73) (5.7,24.06) (6.7,24.57) (7.5,25.58) (8.3,26.25) (9.3,25.41) (10.4,24.57) (11.4,24.06) (13,23.96) (13.8,24.57) (14.3,25.07) (15.1,24.4) (15.6,24.3) (16.2,24.97) (16.9,24.4) (18.3,24.4) (19.3,24.06) (20,23.9)};
\addplot[dot] coordinates {(-20,24.5) (-16,24.4) (-12,24.6) (-9.5,24.8) (-8,24.3) (-6,23.7) (-4.5,24.0) (-3,25.2) (-2,26.0) (-1,25.4) (0,25.4) (1.5,24.2) (2.8,23.2) (4,23.4) (6,24.2) (7.5,25.6) (8.5,26.0) (10,24.8) (12,24.0) (14,24.4) (16,24.5) (18,24.5) (20,24.4)};
\addplot[sol] coordinates {(-20,20.87) (-18,20.93) (-16.4,21.03) (-14.3,21.13) (-12.2,21.2) (-11.1,21.34) (-9.6,21.2) (-8,20.7) (-6.4,20.36) (-5.4,20.36) (-4,20.87) (-3.3,21.88) (-2.1,22.72) (-1.2,22.04) (-0.4,21.88) (0.4,21.61) (1.5,20.87) (2.5,19.59) (3.6,20.02) (4.4,19.69) (5.1,20.53) (6.5,21.37) (8,21.61) (9.1,22.04) (10.4,21.2) (11.4,20.36) (12.5,20.53) (13.5,21.2) (14.3,20.7) (15.4,21.27) (16.4,20.87) (17.2,21.27) (18.3,21.03) (19.3,20.8) (20,20.8)};
\addplot[dot] coordinates {(-20,21.0) (-16,21.0) (-12,21.2) (-10,21.3) (-8,20.8) (-6,20.3) (-4.5,20.5) (-3,21.8) (-2,22.4) (-1,21.9) (0.5,21.8) (1.5,21.3) (2.7,19.8) (4,19.9) (6,21.0) (8,21.7) (9.5,21.6) (11.5,20.7) (14,21.0) (17,21.0) (20,20.9)};
\addplot[sol] coordinates {(-20,17.23) (-18,17.33) (-15.9,17.5) (-13.8,17.67) (-12.2,17.77) (-10.6,17.9) (-9.6,17.67) (-8.2,17.16) (-6.7,16.76) (-5.4,16.99) (-4.3,17.5) (-3.3,18.17) (-2.5,19.02) (-1.9,19.18) (-1.4,18.91) (-0.9,19.18) (-0.1,18.51) (0.9,18.34) (2,17.16) (2.8,16.09) (4.1,16.32) (5.7,17.16) (7.2,17.84) (9.1,18.34) (10.4,17.84) (12,17.16) (13.5,17.33) (15.1,17.57) (16.2,17.43) (18.1,17.84) (18.8,17.5) (20,17.57)};
\addplot[dot] coordinates {(-20,17.4) (-16,17.5) (-12,17.8) (-10,17.8) (-8,17.1) (-6.5,16.8) (-4.5,17.2) (-3,18.3) (-2,19.0) (-1,18.7) (0.5,18.5) (1.5,17.7) (2.7,16.0) (3.8,16.2) (5.5,17.0) (8,18.1) (9.5,18.3) (11,17.7) (13,17.5) (17,17.6) (20,17.5)};
\addplot[sol] coordinates {(-20,13.8) (-18,13.87) (-15.9,14.07) (-14.3,13.97) (-12.2,14.2) (-10.6,14.4) (-9.3,13.8) (-8,13.39) (-6.7,13.12) (-5.4,13.29) (-4.3,13.63) (-3.3,14.47) (-2.5,16.32) (-1.9,16.15) (-1.4,15.14) (-0.4,14.81) (0.9,14.88) (2,14.13) (3,13.12) (3.8,12.52) (4.9,13.29) (6.2,13.97) (7.5,14.64) (8.6,15.14) (9.9,14.47) (10.9,13.8) (12.5,13.63) (14.1,13.8) (15.6,13.63) (17.2,13.8) (18.8,14.13) (19.6,14.98) (20,14.64)};
\addplot[dot] coordinates {(-20,14.0) (-16,14.0) (-12,14.2) (-10,14.2) (-8,13.6) (-6,13.1) (-4.5,13.5) (-3,14.7) (-2,15.6) (-1,15.2) (0.5,15.0) (1.5,14.6) (2.5,13.2) (3.5,12.7) (5,13.1) (7,14.3) (8.5,14.9) (10,14.4) (12,13.7) (15,13.8) (18,14.0) (20,14.2)};
\addplot[sol] coordinates {(-20,9.93) (-19.3,10.26) (-18.5,10.84) (-17.4,10.43) (-16.1,10.26) (-15.1,10.77) (-14.3,11.27) (-13.5,10.6) (-12.4,10.26) (-11.4,10.94) (-10.6,10.43) (-9.8,10.6) (-9,10.94) (-8.2,10.26) (-7.2,9.76) (-5.6,9.69) (-4.6,9.93) (-3.5,10.77) (-1.9,11.78) (-0.9,11.27) (0.2,11.44) (1.5,11.27) (2.3,10.6) (3.3,9.76) (4.4,9.15) (5.9,9.6) (7.5,10.26) (9.3,11.61) (10.6,11.11) (12.2,10.1) (13.3,9.69) (14.3,10.03) (15.4,10.26) (16.4,10.6) (17.5,10.77) (18.3,11.44) (19.1,10.77) (20,10.6)};
\addplot[dot] coordinates {(-20,10.4) (-16,10.5) (-13,10.5) (-10,10.5) (-7.5,9.9) (-5.5,9.6) (-4,10.2) (-2.5,11.5) (-1,11.4) (1,11.6) (2.5,10.5) (3.5,9.5) (5,9.5) (7.5,10.5) (9.5,11.3) (11,10.9) (13,10.2) (15,10.3) (17,10.6) (20,10.5)};
\addplot[sol] coordinates {(-20,6.56) (-19.3,7.07) (-18.5,7.24) (-17.2,6.9) (-16.1,6.56) (-15.1,7.07) (-14.3,7.74) (-13.5,7.07) (-12.4,6.9) (-11.4,7.74) (-10.3,7.07) (-9.3,7.74) (-8.2,6.73) (-7.2,6.12) (-6.1,6.06) (-5.1,6.23) (-4,6.73) (-3,7.74) (-1.9,8.75) (-0.9,8.41) (0.2,8.25) (1.2,7.91) (2.3,6.9) (3.3,5.89) (4.4,5.65) (5.4,5.89) (7,6.73) (8,7.74) (9.3,8.68) (10.6,7.74) (12.2,6.56) (13.8,6.12) (14.9,6.46) (15.9,6.73) (17,7.07) (18,6.9) (18.5,7.4) (19.3,7.74) (20,7.57)};
\addplot[dot] coordinates {(-20,7.0) (-16,6.9) (-13,7.1) (-10,7.1) (-7.5,6.3) (-5.5,6.2) (-3.5,7.3) (-2,8.4) (-0.5,8.3) (1,8.0) (2.5,6.5) (3.8,5.6) (5.5,5.9) (8,7.6) (9.5,8.3) (11,7.4) (13,6.5) (15,6.6) (17,7.1) (20,7.0)};
\addplot[sol] coordinates {(-20,3.7) (-19,3.43) (-18,3.1) (-16.9,2.86) (-15.6,3.03) (-14.5,3.3) (-13.5,3.87) (-12.7,4.31) (-12.2,3.77) (-11.4,4.11) (-10.9,3.87) (-9.8,4.04) (-9,4.38) (-8.2,3.1) (-7.2,2.36) (-6.1,2.02) (-5.1,2.36) (-4,3.1) (-3,4.04) (-2.2,5.55) (-1.2,4.88) (0.2,4.37) (1.2,4.04) (2.3,2.36) (3.3,2.02) (3.8,2.19) (4.9,3.43) (6.5,4.04) (7.8,5.05) (8.6,4.37) (9.6,4.71) (10.7,4.54) (11.4,3.63) (12.2,2.86) (13.3,2.69) (14.3,3.2) (15.4,3.53) (16.4,3.3) (17.5,3.7) (18,4.04) (18.8,3.3) (19.6,3.03) (20,2.76)};
\addplot[dot] coordinates {(-20,3.5) (-16,3.3) (-13,3.7) (-10,3.9) (-8,3.0) (-6,2.4) (-4,3.2) (-2.5,5.0) (-1,4.9) (1,4.5) (2.5,3.0) (3.5,2.3) (5,2.9) (7.5,4.3) (9.5,4.6) (11.5,3.8) (13,3.2) (15,3.3) (17,3.6) (20,3.4)};
\addplot[sol] coordinates {(-20,-0.07) (-18.8,-0.17) (-17.7,-0.4) (-16.6,-0.51) (-15.6,-0.34) (-14.5,0.27) (-13.5,0.51) (-12.4,0.94) (-11.9,0.27) (-10.9,0.67) (-10.3,0.84) (-9.3,0.34) (-8.2,-0.51) (-7.2,-1.18) (-6.1,-1.35) (-5.1,-1.01) (-4,-0.17) (-3,0.84) (-2.2,1.85) (-1.2,1.35) (0.2,1.01) (1.2,0.84) (2.3,0.34) (3,-0.67) (3.6,-1.52) (4.4,-1.52) (4.9,-0.67) (5.4,0.34) (6.2,-0.51) (7,-0.67) (7.8,0.0) (8.3,1.85) (9.1,1.01) (9.9,0.67) (10.4,1.18) (11.2,0.51) (12.2,-0.17) (13.3,-0.51) (14.3,-0.34) (15.4,-0.17) (16.4,0.34) (17,0.67) (18,0.0) (19.1,-0.67) (19.8,-1.35) (20,-1.08)};
\addplot[dot] coordinates {(-20,0.0) (-17,-0.3) (-14,0.3) (-11,0.5) (-8.5,-0.3) (-6.5,-1.1) (-4.5,-0.6) (-3,0.8) (-2,1.6) (-0.5,1.2) (1,1.3) (2,0.6) (3.2,-0.9) (4.3,-1.4) (5.5,-0.9) (8,0.7) (9.5,0.9) (11,0.5) (13,-0.1) (15.5,0.0) (17.5,0.3) (20,0.0)};
\node[anchor=base east, inner sep=0pt, font=\titlefont] at (rel axis cs:1,1) [xshift=-22pt, yshift=-40pt] {60$\mu$m};
\end{axis}
\end{tikzpicture}
\end{document}
